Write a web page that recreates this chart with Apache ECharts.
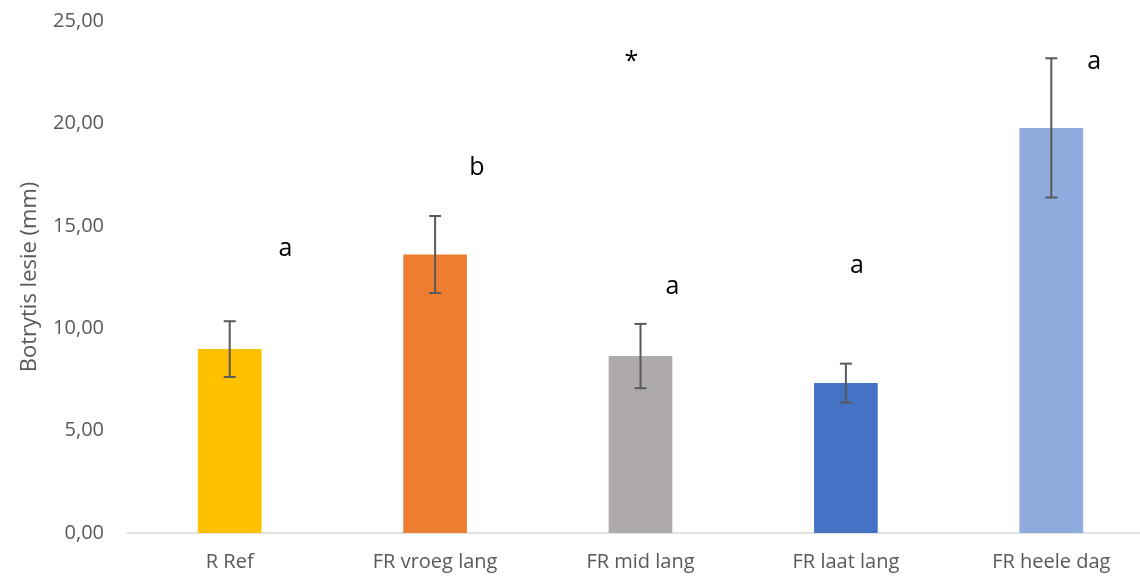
<!DOCTYPE html>
<html><head><meta charset="utf-8">
<script src="https://cdn.jsdelivr.net/npm/echarts@6/dist/echarts.min.js"></script>
<style>html,body{margin:0;padding:0;background:#fff}#c{width:1140px;height:579px}</style>
</head><body><div id="c"></div>
<script>
const categories = ['R Ref', 'FR vroeg lang', 'FR mid lang', 'FR laat lang', 'FR heele dag'];
const values = [8.98, 13.6, 8.64, 7.32, 19.78];
const errors = [1.36, 1.88, 1.57, 0.95, 3.4];
const colors = ['#FFC000', '#ED7D31', '#AEAAAA', '#4472C4', '#8FAADC'];
const letters = ['a', 'b', 'a', 'a', 'a', '*'];
const letterCat = [0, 1, 2, 3, 4, 2];
const letterShift = [0.272, 0.204, 0.156, 0.054, 0.209, -0.044];
const letterY = [13.87, 17.82, 12.01, 13.04, 23.0, 23.0];

const font = "'Open Sans', 'Liberation Sans', sans-serif";
const chart = echarts.init(document.getElementById('c'));
const fmt = v => v.toFixed(2).replace('.', ',');

chart.setOption({
  animation: false,
  grid: {left: 127, width: 1027, top: 21, bottom: 46, outerBoundsMode: 'none', containLabel: false},
  xAxis: {
    type: 'category', data: categories,
    axisLine: {lineStyle: {color: '#D9D9D9', width: 1.5}},
    axisTick: {show: false},
    axisLabel: {color: '#595959', fontSize: 20, fontFamily: font, margin: 19}
  },
  yAxis: {
    type: 'value', min: 0, max: 25, interval: 5,
    name: 'Botrytis lesie (mm)', nameLocation: 'middle', nameGap: 86,
    nameTextStyle: {color: '#595959', fontSize: 22, fontFamily: font},
    axisLine: {show: false}, axisTick: {show: false},
    splitLine: {show: false},
    axisLabel: {color: '#595959', fontSize: 20, fontFamily: font, margin: 23, formatter: fmt}
  },
  series: [
    {
      type: 'bar', barWidth: '31%',
      data: values.map((v, i) => ({value: v, itemStyle: {color: colors[i]}}))
    },
    {
      type: 'custom', z: 10,
      data: values.map((v, i) => [i, v - errors[i], v + errors[i]]),
      renderItem: function (params, api) {
        const lo = api.coord([api.value(0), api.value(1)]);
        const hi = api.coord([api.value(0), api.value(2)]);
        const w = 6;
        const st = {stroke: '#595959', lineWidth: 2};
        return {type: 'group', children: [
          {type: 'line', shape: {x1: hi[0], y1: hi[1], x2: lo[0], y2: lo[1]}, style: st},
          {type: 'line', shape: {x1: hi[0] - w, y1: hi[1], x2: hi[0] + w, y2: hi[1]}, style: st},
          {type: 'line', shape: {x1: lo[0] - w, y1: lo[1], x2: lo[0] + w, y2: lo[1]}, style: st}
        ]};
      }
    },
    {
      type: 'custom', z: 11,
      data: letters.map((l, i) => [letterCat[i], letterY[i]]),
      renderItem: function (params, api) {
        const i = params.dataIndex;
        const p = api.coord([api.value(0), api.value(1)]);
        const bw = api.size([1, 0])[0];
        return {type: 'text', style: {text: letters[i], x: p[0] + bw * letterShift[i], y: p[1], align: 'center', verticalAlign: 'middle', fill: '#000', font: '25px ' + font}};
      }
    }
  ]
});
</script></body></html>
